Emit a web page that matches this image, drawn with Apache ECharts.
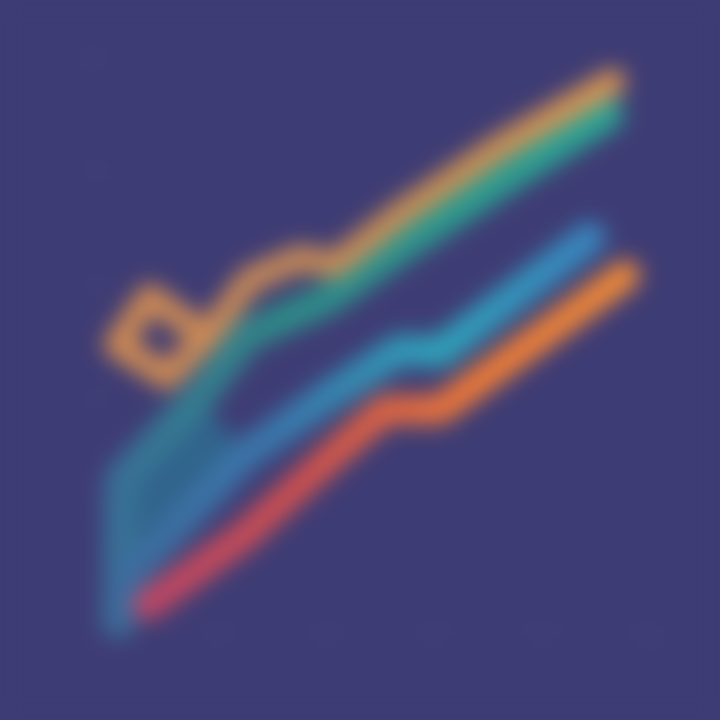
<!DOCTYPE html>
<html>
<head>
<meta charset="utf-8">
<script src="https://cdn.jsdelivr.net/npm/echarts@6/dist/echarts.min.js"></script>
<style>
  html, body { margin: 0; padding: 0; background: #3e3c74; overflow: hidden; }
  #chart { width: 720px; height: 720px; filter: blur(11px); }
</style>
</head>
<body>
<div id="chart"></div>
<script>
// Data (x, y in axis units 0..100)
const goldX = [18.0, 10.6, 1.3, 7.4, 18.0, 25.9, 35.2, 41.7, 53.7, 72.2, 93.1];
const goldY = [51.0, 43.9, 49.6, 58.1, 51.0, 61.1, 65.0, 63.7, 72.7, 84.6, 96.1];

const tealX = [1.5, 1.9, 16.7, 25.4, 40.7, 53.7, 72.2, 92.2];
const tealY = [0.5, 25.7, 40.7, 51.3, 57.9, 66.7, 78.4, 90.4];

const blueX = [2.8, 3.7, 25.0, 40.7, 53.7, 61.1, 88.9];
const blueY = [2.3, 8.8, 30.1, 40.7, 48.7, 48.3, 68.5];

const redX = [7.0, 25.0, 40.7, 50.9, 61.1, 95.4];
const redY = [3.5, 15.9, 29.6, 38.1, 38.1, 61.9];

function pairs(xs, ys) { return xs.map((x, i) => [x, ys[i]]); }

// band between the start of the teal line and the start of the blue line
const bandPts = pairs(tealX, tealY).slice(0, 3).concat(pairs(blueX, blueY).slice(0, 3).reverse());

const chart = echarts.init(document.getElementById('chart'));
function grad(stops) {
  return { type: 'linear', x: 0, y: 0, x2: 1, y2: 0,
    colorStops: stops.map((c, i) => ({ offset: i / (stops.length - 1), color: c })) };
}
const base = { type: 'line', symbol: 'none', smooth: false, z: 2 };
chart.setOption({
  backgroundColor: '#3e3c74',
  grid: { left: 110, right: 70, top: 60, bottom: 95 },
  xAxis: {
    type: 'value', min: 0, max: 100, interval: 20,
    axisLine: { show: true, lineStyle: { color: 'rgba(255,255,255,0.05)' } },
    axisTick: { show: false },
    axisLabel: { color: 'rgba(255,255,255,0.08)', fontSize: 12 },
    splitLine: { show: false }
  },
  yAxis: {
    type: 'value', min: 0, max: 100, interval: 20,
    axisLine: { show: true, lineStyle: { color: 'rgba(255,255,255,0.05)' } },
    axisTick: { show: false },
    axisLabel: { color: 'rgba(255,255,255,0.08)', fontSize: 12 },
    splitLine: { show: false }
  },
  series: [
    {
      type: 'custom', name: 'band', z: 1, silent: true,
      data: [0],
      renderItem: function (params, api) {
        const pts = bandPts.map(p => api.coord(p));
        return { type: 'polygon', shape: { points: pts },
          style: { fill: '#30688f', opacity: 0.9 } };
      }
    },
    Object.assign({}, base, {
      name: 'teal', data: pairs(tealX, tealY),
      lineStyle: { width: 32, cap: 'round', join: 'round',
        color: grad(['#3a6e98', '#2e8a88', '#2b9a8e', '#2aa595']) }
    }),
    Object.assign({}, base, {
      name: 'blue', data: pairs(blueX, blueY),
      lineStyle: { width: 32, cap: 'round', join: 'round',
        color: grad(['#3d6a9c', '#3a78ac', '#2fa2ba', '#3a84bf']) }
    }),
    Object.assign({}, base, {
      name: 'gold', data: pairs(goldX, goldY), z: 3,
      lineStyle: { width: 26, cap: 'round', join: 'round',
        color: grad(['#d08a52', '#c88a58', '#cc9052', '#dc9652']) }
    }),
    Object.assign({}, base, {
      name: 'red', data: pairs(redX, redY),
      lineStyle: { width: 30, cap: 'round', join: 'round',
        color: grad(['#c04565', '#d0504e', '#f07a36', '#f08c38']) }
    })
  ]
});
</script>
</body>
</html>
